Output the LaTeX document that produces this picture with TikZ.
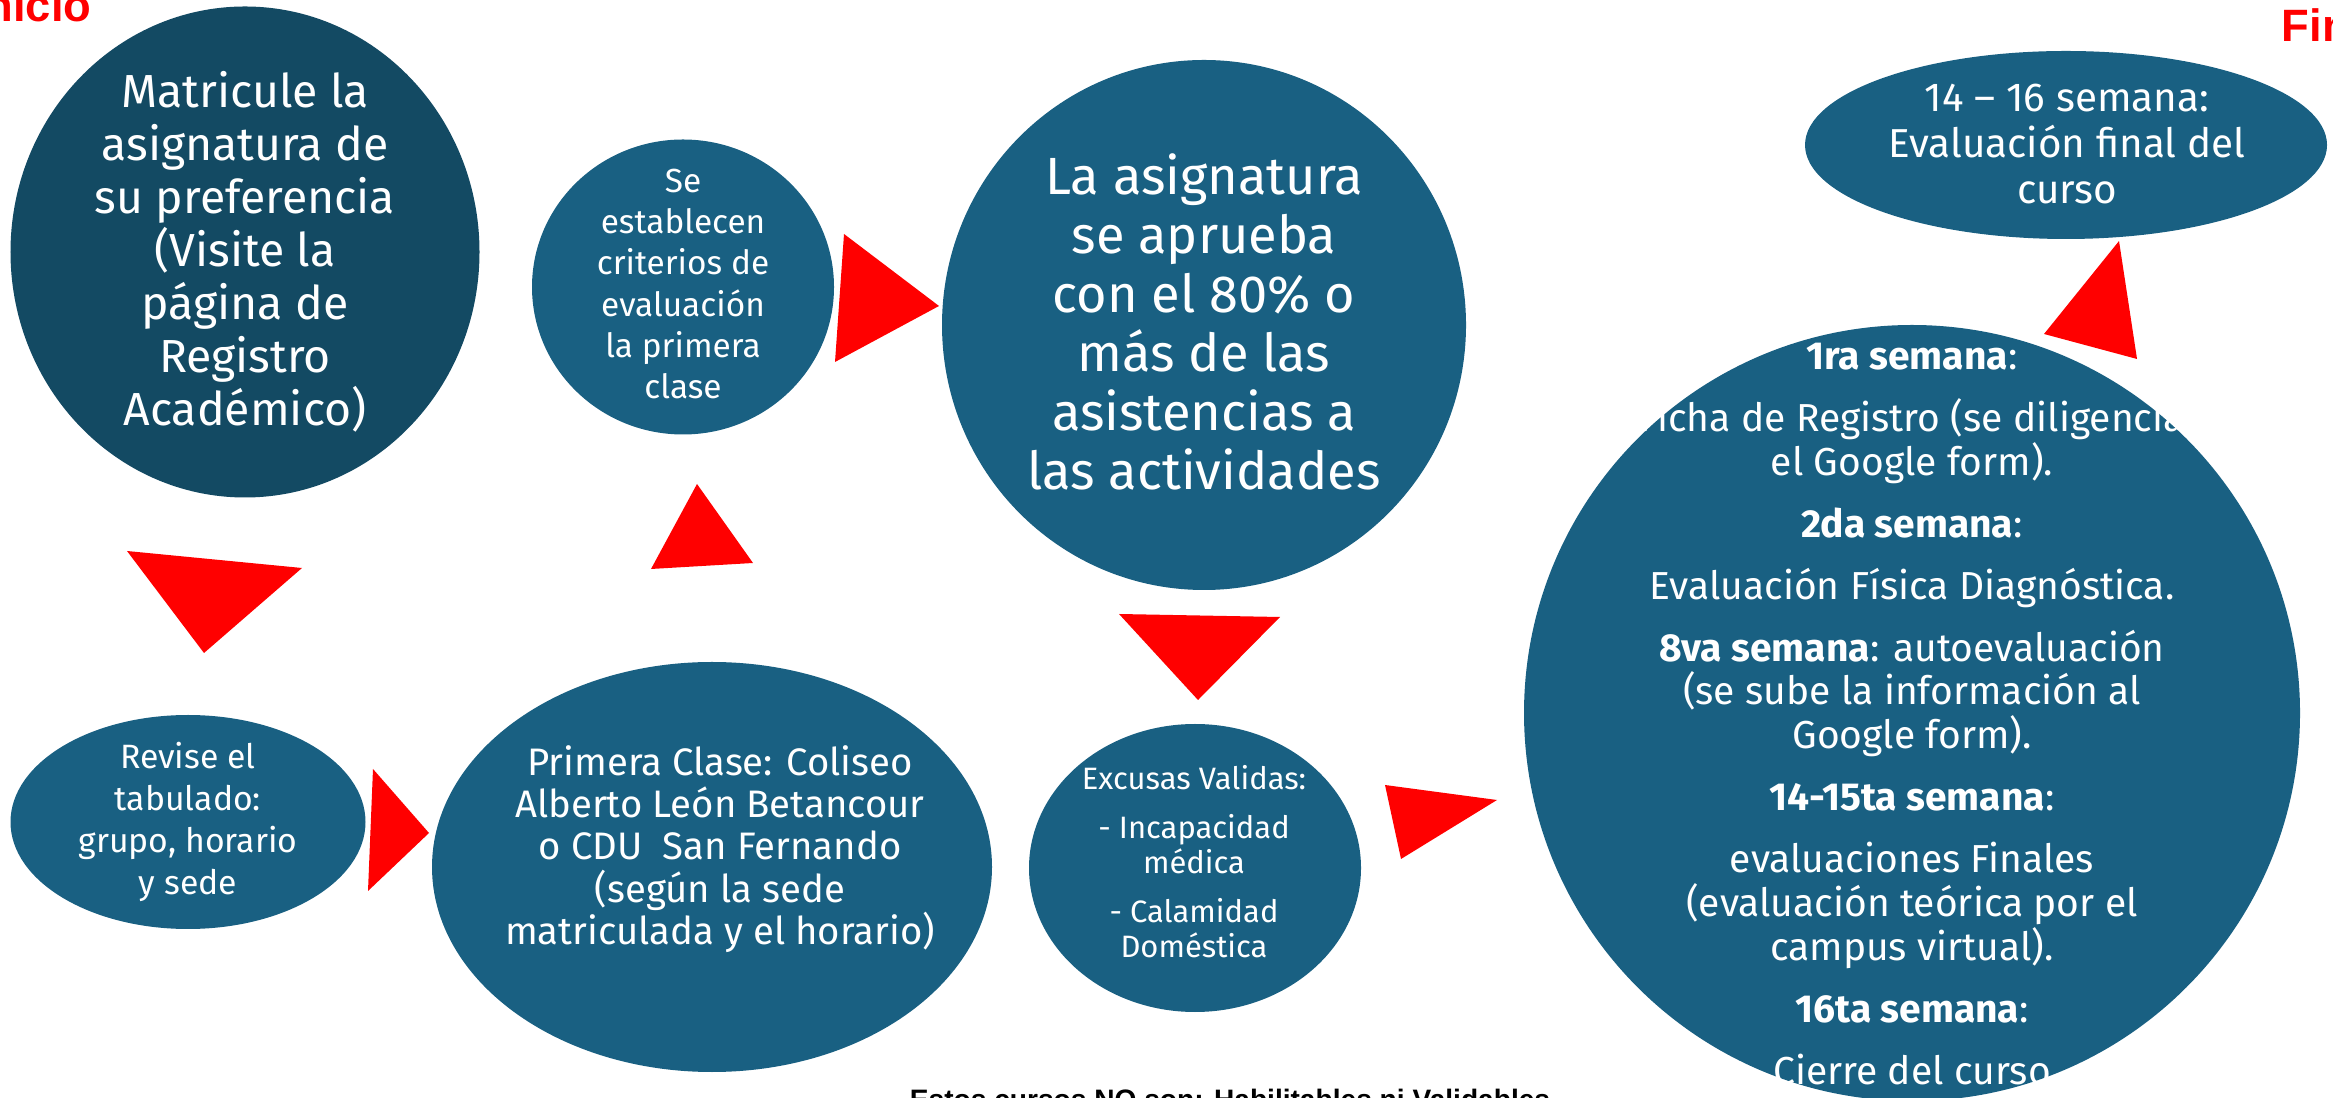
\documentclass[tikz,border=0pt]{standalone}
\usepackage{fontspec}
\setmainfont{Fira Sans}
\newfontfamily\notefont{Liberation Sans}
\usetikzlibrary{shapes.geometric}

\definecolor{stepteal}{HTML}{196082}
\definecolor{startteal}{HTML}{134A63}
\newcommand{\fsz}[2]{\fontsize{#1}{#2}\selectfont}

\tikzset{
  bubble/.style={ellipse, fill=stepteal, inner sep=0pt},
  bubbletext/.style={text=white, align=center, inner sep=0pt},
  pointer/.style={fill=red},
  marker/.style={text=red, inner sep=0pt, font=\notefont\bfseries\fsz{12.9}{14}}
}

\begin{document}
\begin{tikzpicture}

      \useasboundingbox (0,0) rectangle (23.33,10.97);

      \begin{scope}[every node/.style={bubble}]
        \node[fill=startteal, minimum width=4.69cm, minimum height=4.91cm] (matr) at (2.45,8.45) {};
        \node[minimum width=3.55cm, minimum height=2.14cm] (revise)     at (1.88,2.75)  {};
        \node[minimum width=5.60cm, minimum height=4.10cm] (primera)    at (7.12,2.30)  {};
        \node[minimum width=3.02cm, minimum height=2.95cm] (criterios)  at (6.83,8.10)  {};
        \node[minimum width=5.24cm, minimum height=5.30cm] (asignatura) at (12.04,7.72) {};
        \node[minimum width=3.32cm, minimum height=2.88cm] (excusas)    at (11.95,2.29) {};
        \node[minimum width=7.76cm, minimum height=7.76cm] (semanas)    at (19.12,3.84) {};
        \node[minimum width=5.22cm, minimum height=1.88cm] (final)      at (20.66,9.52) {};
      \end{scope}

      \begin{scope}[every node/.style={bubbletext}]
        \node[font=\fsz{13.2}{15.1}] (matrtxt) at (matr)
          {Matricule la\\asignatura de\\su preferencia\\(Visite la\\página de\\Registro\\Académico)};
        \node[font=\fsz{9.6}{11.9}] (revisetxt) at (revise)
          {Revise el\\tabulado:\\grupo, horario\\y sede};
        \node[font=\fsz{10.9}{12}] (primeratxt) at (7.20,2.48)
          {Primera Clase: Coliseo\\Alberto León Betancour\\o CDU\ \ San Fernando\\(según la sede\\matriculada y el horario)};
        \node[font=\fsz{9.5}{11.7}] (criteriostxt) at (6.83,8.13)
          {Se\\establecen\\criterios de\\evaluación\\la primera\\clase};
        \node[font=\fsz{14.9}{16.8}] (asignaturatxt) at (12.04,7.75)
          {La asignatura\\se aprueba\\con el 80\% o\\más de las\\asistencias a\\las actividades};
        \node[font=\fsz{8.8}{10.2}] (excusastxt) at (11.94,2.35)
          {Excusas Validas:\\[3.5pt]- Incapacidad\\médica\\[3.5pt]- Calamidad\\Doméstica};
        \node[font=\fsz{11.1}{12.5}] (semanastxt) at (19.12,3.83)
          {\textbf{1ra semana}:\\[5.1pt]
           Ficha de Registro (se diligencia\\el Google form).\\[5.1pt]
           \textbf{2da semana}:\\[5.1pt]
           Evaluación Física Diagnóstica.\\[5.1pt]
           \textbf{8va semana}: autoevaluación\\(se sube la información al\\Google form).\\[5.1pt]
           \textbf{14-15ta semana}:\\[5.1pt]
           evaluaciones Finales\\(evaluación teórica por el\\campus virtual).\\[5.1pt]
           \textbf{16ta semana}:\\[5.1pt]
           Cierre del curso};
        \node[font=\fsz{11.5}{13.2}] (finaltxt) at (20.67,9.53)
          {14 – 16 semana:\\Evaluación final del\\curso};
      \end{scope}

      \node[marker, anchor=base east] (inicio) at (0.92,10.75) {Inicio};
      \node[marker, anchor=base west] (fin) at (22.81,10.55) {Fin};
      \node[anchor=base, inner sep=0pt, font=\notefont\bfseries\fsz{8}{10}] (nota) at (12.30,-0.12)
        {Estos cursos NO son: Habilitables ni Validables};

      \fill[pointer] (1.27,5.46) -- (3.02,5.29) -- (2.04,4.44) -- cycle;
      \fill[pointer] (3.73,3.28) -- (4.29,2.64) -- (3.68,2.06) -- cycle;
      \fill[pointer] (6.51,5.28) -- (6.97,6.13) -- (7.53,5.34) -- cycle;
      \fill[pointer] (8.44,8.63) -- (9.39,7.91) -- (8.35,7.35) -- cycle;
      \fill[pointer] (11.19,4.83) -- (12.80,4.80) -- (11.98,3.97) -- cycle;
      \fill[pointer] (13.85,3.12) -- (14.97,2.97) -- (14.01,2.38) -- cycle;
      \fill[pointer] (21.19,8.56) -- (20.44,7.63) -- (21.37,7.38) -- cycle;

    \end{tikzpicture}
\end{document}
